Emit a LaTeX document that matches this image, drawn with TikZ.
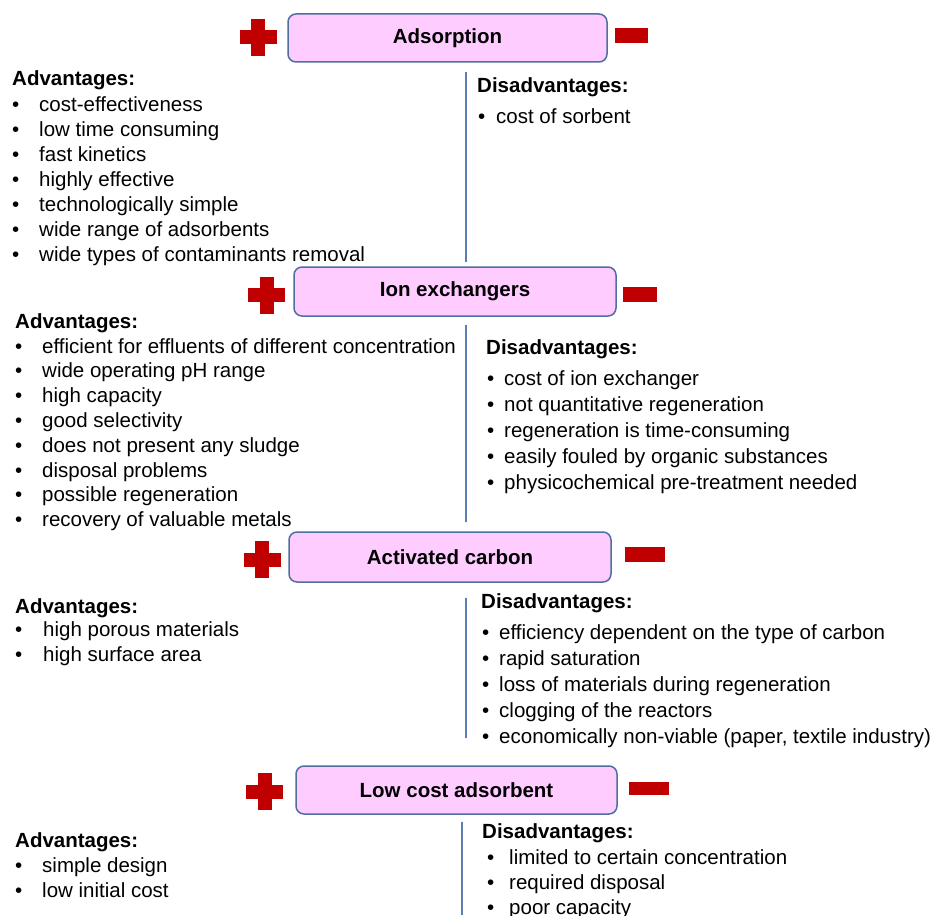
\documentclass[tikz,border=0pt]{standalone}
\usepackage{fontspec}
\setmainfont{Liberation Sans}
\definecolor{pinkc}{RGB}{255,204,255}
\definecolor{bordc}{RGB}{79,111,160}
\definecolor{linec}{RGB}{91,126,178}
\definecolor{redc}{RGB}{192,0,0}
\tikzset{
  titlebox/.style={draw=bordc, fill=pinkc, rounded corners=8pt, line width=1.5pt,
    font=\fontsize{20.5}{24}\selectfont\bfseries, inner sep=0pt},
  txt/.style={anchor=base west, inner sep=0pt, font=\fontsize{20.5}{24}\selectfont},
  headtxt/.style={anchor=base west, inner sep=0pt, font=\fontsize{20.5}{24}\selectfont\bfseries},
  sepline/.style={draw=linec, line width=1.5pt},
  redmark/.style={fill=redc}
}
% #1 name prefix, #2 bullet x, #3 text x, #4 first baseline, #5 spacing, #6 list
\newcommand\myitemlist[6]{%
  \foreach \t [count=\i from 0] in {#6} {
    \node[txt] (#1b\i) at (#2,{#4+\i*#5}) {•};
    \node[txt] (#1t\i) at (#3,{#4+\i*#5}) {\t};
  }%
}
% plus sign: center x, y
\newcommand\myplus[2]{%
  \fill[redmark] ({#1-18.5},{#2-7}) rectangle ({#1+18.5},{#2+7});
  \fill[redmark] ({#1-7},{#2-18.5}) rectangle ({#1+7},{#2+18.5});
}
% minus sign: center x, y, width, height
\newcommand\myminus[4]{%
  \fill[redmark] ({#1-#3/2},{#2-#4/2}) rectangle ({#1+#3/2},{#2+#4/2});
}
\begin{document}
\begin{tikzpicture}[x=1pt,y=-1pt]
\useasboundingbox (0,0) rectangle (936,915);
\clip (0,0) rectangle (936,915);

% ---------- Block 1: Adsorption ----------
\node[titlebox, minimum width=319pt, minimum height=48pt] (b1) at (447.5,38) {Adsorption};
\myplus{258}{37.5}
\myminus{631.5}{35.5}{33}{15}
\coordinate (l1a) at (466,72);
\coordinate (l1b) at (466,262);
\draw[sepline] (l1a) -- (l1b);
\node[headtxt] (a1h) at (12,86) {Advantages:};
\myitemlist{a1}{12}{39}{111}{25}{cost-effectiveness, low time consuming, fast kinetics, highly effective, technologically simple, wide range of adsorbents, wide types of contaminants removal}
\node[headtxt] (d1h) at (477,93) {Disadvantages:};
\myitemlist{d1}{478}{496}{124}{25}{cost of sorbent}

% ---------- Block 2: Ion exchangers ----------
\node[titlebox, minimum width=322pt, minimum height=49pt] (b2) at (455,291.5) {Ion exchangers};
\myplus{266.5}{295}
\myminus{640}{294.5}{34}{15}
\coordinate (l2a) at (466,325);
\coordinate (l2b) at (466,522);
\draw[sepline] (l2a) -- (l2b);
\node[headtxt] (a2h) at (15,328) {Advantages:};
\myitemlist{a2}{15}{42}{353}{24.8}{efficient for effluents of different concentration, wide operating pH range, high capacity, good selectivity, does not present any sludge, disposal problems, possible regeneration, recovery of valuable metals}
\node[headtxt] (d2h) at (486,354) {Disadvantages:};
\myitemlist{d2}{487}{504}{385}{26}{cost of ion exchanger, not quantitative regeneration, regeneration is time-consuming, easily fouled by organic substances, physicochemical pre-treatment needed}

% ---------- Block 3: Activated carbon ----------
\node[titlebox, minimum width=322pt, minimum height=50pt] (b3) at (450,557) {Activated carbon};
\myplus{262}{559.5}
\myminus{645}{554.5}{40}{15}
\coordinate (l3a) at (466,598);
\coordinate (l3b) at (466,738);
\draw[sepline] (l3a) -- (l3b);
\node[headtxt] (a3h) at (15,613) {Advantages:};
\myitemlist{a3}{15}{43}{636}{25}{high porous materials, high surface area}
\node[headtxt] (d3h) at (481,608) {Disadvantages:};
\myitemlist{d3}{482}{499}{639}{26}{efficiency dependent on the type of carbon, rapid saturation, loss of materials during regeneration, clogging of the reactors, {economically non-viable (paper, textile industry)}}

% ---------- Block 4: Low cost adsorbent ----------
\node[titlebox, minimum width=321pt, minimum height=48pt] (b4) at (456.5,790) {Low cost adsorbent};
\myplus{264.5}{791.5}
\myminus{648.5}{788}{40}{13}
\coordinate (l4a) at (462,822);
\coordinate (l4b) at (462,915);
\draw[sepline] (l4a) -- (l4b);
\node[headtxt] (a4h) at (15,847) {Advantages:};
\myitemlist{a4}{15}{42}{872}{25}{simple design, low initial cost}
\node[headtxt] (d4h) at (482,838) {Disadvantages:};
\myitemlist{d4}{487}{509}{864}{25}{limited to certain concentration, required disposal, poor capacity}
\end{tikzpicture}
\end{document}
